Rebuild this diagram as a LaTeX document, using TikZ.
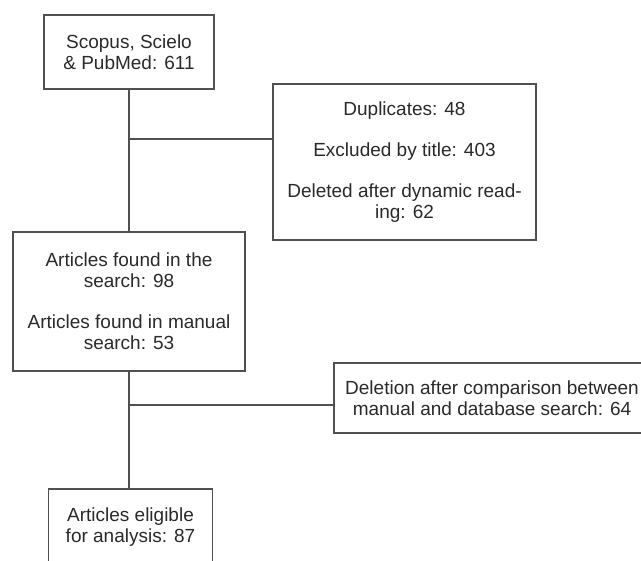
\documentclass[tikz,border=0pt]{standalone}
\usepackage{fontspec}
\setmainfont{Liberation Sans}
\definecolor{txt}{HTML}{2A2A2A}
\definecolor{ln}{HTML}{505050}
\begin{document}
\begin{tikzpicture}[x=0.75pt,y=-0.75pt,
  box/.style={draw=ln, line width=1.05pt, rectangle, align=center, inner sep=0pt,
    text=txt, font=\fontsize{14.25pt}{15.75pt}\selectfont},
  conn/.style={draw=ln, line width=1.05pt}]
\useasboundingbox[fill=white] (0,0) rectangle (641,560);
\node[box, minimum width=127.5pt, minimum height=55.5pt] (b1) at (129,52)
  {Scopus, Scielo\\ \& PubMed: 611};
\node[box, minimum width=197.25pt, minimum height=117pt] (b2) at (404.5,162)
  {Duplicates: 48\\[15pt] Excluded by title: 403\\[15pt] Deleted after dynamic read-\\ ing: 62};
\node[box, minimum width=174pt, minimum height=104.25pt] (b3) at (129,301.5)
  {Articles found in the\\ search: 98\\[15pt] Articles found in manual\\ search: 53};
\node[box, minimum width=237pt, minimum height=52.5pt] (b4) at (492,398)
  {Deletion after comparison between\\ manual and database search: 64};
\node[box, minimum width=123pt, minimum height=57pt] (b5) at (130.5,527)
  {Articles eligible\\ for analysis: 87};
\coordinate (j1) at (129,139);
\coordinate (j2) at (129,405);
\draw[conn] (b1.south) -- (b3.north);
\draw[conn] (j1) -- (j1 -| b2.west);
\draw[conn] (b3.south) -- (b5.north -| b3.south);
\draw[conn] (j2) -- (j2 -| b4.west);
\end{tikzpicture}
\end{document}
